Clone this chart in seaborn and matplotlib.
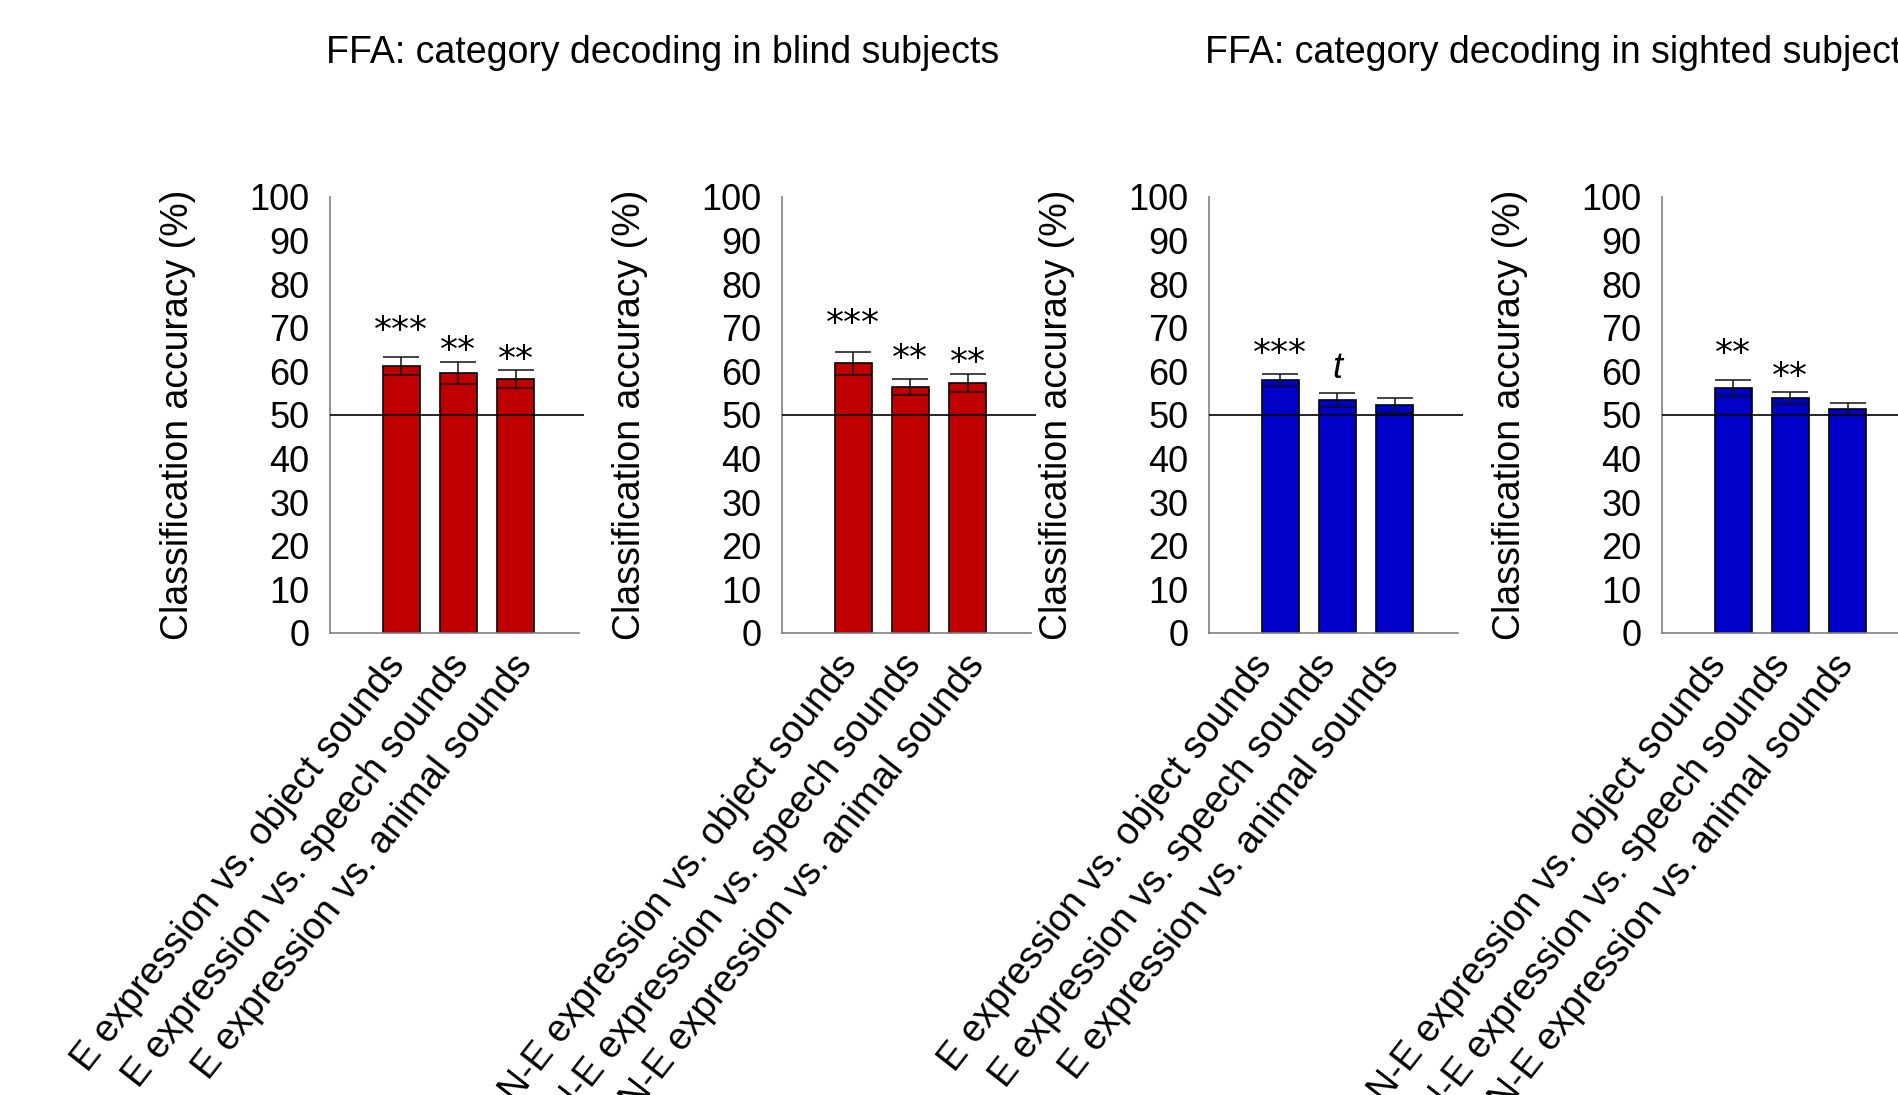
import numpy as np
import pandas as pd
import matplotlib
matplotlib.use("Agg")
import matplotlib.pyplot as plt
import matplotlib.transforms as mtransforms
import seaborn as sns

# Pairwise comparisons decoded in the FFA
e_pairs = ["E expression vs. object sounds",
           "E expression vs. speech sounds",
           "E expression vs. animal sounds"]
ne_pairs = ["N-E expression vs. object sounds",
            "N-E expression vs. speech sounds",
            "N-E expression vs. animal sounds"]

# Mean classification accuracy (%) and standard error
blind_e_mean = [61.2, 59.6, 58.2]
blind_e_se = [2.0, 2.5, 2.1]
blind_ne_mean = [61.9, 56.4, 57.3]
blind_ne_se = [2.65, 1.85, 2.05]
sighted_e_mean = [58.0, 53.4, 52.2]
sighted_e_se = [1.3, 1.65, 1.7]
sighted_ne_mean = [56.2, 53.9, 51.4]
sighted_ne_se = [1.85, 1.45, 1.45]

# Significance markers and the baseline height (%) they are written at
blind_e_sig = ["***", "**", "**"]
blind_e_sig_y = [67.0, 62.4, 60.4]
blind_ne_sig = ["***", "**", "**"]
blind_ne_sig_y = [68.5, 60.5, 59.7]
sighted_e_sig = ["***", "t", ""]
sighted_e_sig_y = [61.8, 58.5, 0.0]
sighted_ne_sig = ["**", "**", ""]
sighted_ne_sig_y = [61.8, 56.4, 0.0]

titles = ["FFA: category decoding in blind subjects",
          "FFA: category decoding in sighted subjects"]
chance = 50
y_label = "Classification accuracy (%)"

RED = "#C00000"
BLUE = "#0000C8"

sns.set_style("white")
plt.rcParams["font.family"] = ["Liberation Sans", "DejaVu Sans"]
plt.rcParams["text.color"] = "black"
plt.rcParams["axes.labelcolor"] = "black"
plt.rcParams["xtick.color"] = "black"
plt.rcParams["ytick.color"] = "black"
FS = 27
TICK_FS = 26

W, H = 1899, 1095
fig = plt.figure(figsize=(W / 100, H / 100), dpi=100)

# (labels, means, errors, markers, marker heights, colour, axes left px, label shift px)
panels = [
    (e_pairs, blind_e_mean, blind_e_se, blind_e_sig, blind_e_sig_y, RED, 330, 5),
    (ne_pairs, blind_ne_mean, blind_ne_se, blind_ne_sig, blind_ne_sig_y, RED, 782, 5),
    (e_pairs, sighted_e_mean, sighted_e_se, sighted_e_sig, sighted_e_sig_y, BLUE, 1209, -7),
    (ne_pairs, sighted_ne_mean, sighted_ne_se, sighted_ne_sig, sighted_ne_sig_y, BLUE, 1662, -6),
]

xmin, xmax = -1.25, 3.2
ax_w_px = 254
ax_bottom_px, ax_top_px = 633, 197

for pairs, means, ses, sig, sig_y, color, left_px, lab_dx in panels:
    ax = fig.add_axes([left_px / W, (H - ax_bottom_px) / H,
                       ax_w_px / W, (ax_bottom_px - ax_top_px) / H])
    df = pd.DataFrame({"comparison": pairs, "accuracy": means})
    sns.barplot(data=df, x="comparison", y="accuracy", color=color,
                saturation=1, width=0.65, edgecolor="black", linewidth=1.2,
                errorbar=None, ax=ax)
    pos = np.arange(len(pairs))
    ax.errorbar(pos, means, yerr=ses, fmt="none", ecolor="#111111",
                elinewidth=1.1, capsize=13, capthick=1.1, zorder=3)
    ax.axhline(chance, color="black", lw=1.2, zorder=4)

    for i, (s, yv) in enumerate(zip(sig, sig_y)):
        if not s:
            continue
        if s == "t":
            ax.text(i, yv, s, ha="center", va="baseline", fontsize=TICK_FS,
                    fontstyle="italic", family="Liberation Sans")
        else:
            ax.text(i, yv, s, ha="center", va="baseline", fontsize=TICK_FS,
                    family="DejaVu Sans")

    ax.set_xlim(xmin, xmax)
    ax.set_ylim(0, 100)
    ax.set_yticks(range(0, 101, 10))
    ax.tick_params(axis="y", direction="in", length=12, width=1.0,
                   color="black", pad=15, labelsize=TICK_FS)
    ax.tick_params(axis="x", length=0, pad=0, labelsize=FS)
    for side in ("top", "right"):
        ax.spines[side].set_visible(False)
    for side in ("left", "bottom"):
        ax.spines[side].set_color("#808080")
        ax.spines[side].set_linewidth(1.2)
    ax.spines["bottom"].set_bounds(xmin, 3.11)
    ax.set_xlabel("")
    ax.set_ylabel(y_label, fontsize=FS, labelpad=38)

    ax.set_xticks(pos)
    ax.set_xticklabels(pairs)
    for i, lab in enumerate(ax.get_xticklabels()):
        shift = mtransforms.ScaledTranslation((lab_dx + 6.5 * i) / 100, -32 / 100,
                                              fig.dpi_scale_trans)
        lab.set_rotation(52)
        lab.set_ha("right")
        lab.set_va("baseline")
        lab.set_rotation_mode("anchor")
        lab.set_transform(lab.get_transform() + shift)

fig.text(326 / W, 1 - 63 / H, titles[0], ha="left", va="baseline", fontsize=FS)
fig.text(1205 / W, 1 - 63 / H, titles[1], ha="left", va="baseline", fontsize=FS)

fig.savefig("out.png", dpi=100, facecolor="white")
